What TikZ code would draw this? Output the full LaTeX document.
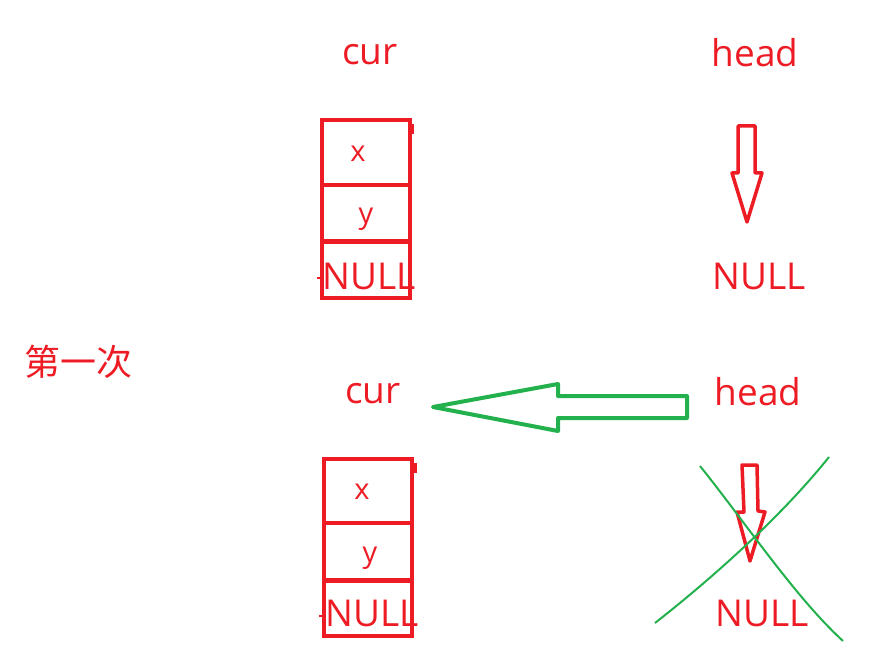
\documentclass[tikz,border=0pt]{standalone}
\usepackage{fontspec}
\setmainfont{Open Sans}
\newfontfamily\cjkfont{Noto Sans CJK SC}
\definecolor{pred}{HTML}{ED1C24}
\definecolor{pgreen}{HTML}{22B14C}
\begin{document}
\begin{tikzpicture}[x=1pt,y=-1pt,
  lbl/.style={text=pred,inner sep=0pt,font=\fontsize{37}{42}\selectfont},
  small/.style={text=pred,inner sep=0pt,font=\fontsize{29}{34}\selectfont},
  boxline/.style={draw=pred,line width=4pt},
  redarrow/.style={draw=pred,line width=3.5pt,line join=round},
  greenarrow/.style={draw=pgreen,line width=4pt,line join=round},
  cross/.style={draw=pgreen,line width=2pt}]
\useasboundingbox (0,0) rectangle (892,671);
% labels
\node[lbl] (cur1) at (370,55) {cur};
\node[lbl] (head1) at (755,53) {head};
\node[lbl] (null1) at (759,276) {NULL};
\node[lbl] (cur2) at (373,394) {cur};
\node[lbl] (head2) at (758,392) {head};
\node[lbl] (null2) at (762,613) {NULL};
\node[lbl,font=\cjkfont\fontsize{36}{40}\selectfont] (first) at (78,362) {第一次};
% top node box
\draw[boxline] (322,120) rectangle (410,298);
\draw[boxline] (322,185) -- (410,185);
\draw[boxline,line width=5pt] (322,242) -- (410,242);
\draw[draw=pred,line width=3pt] (412,124) -- (412,134);
\draw[draw=pred,line width=2pt] (317,278) -- (324,278);
\node[small] (x1) at (358,154) {x};
\node[small,anchor=base] (y1) at (366,224) {y};
\node[lbl] (n1) at (369,276) {NULL};
% bottom node box
\draw[boxline] (324,459) rectangle (412,636);
\draw[boxline] (324,523) -- (412,523);
\draw[boxline,line width=5pt] (324,580) -- (412,580);
\draw[draw=pred,line width=3pt] (415,463) -- (415,473);
\draw[draw=pred,line width=2pt] (319,616) -- (326,616);
\node[small] (x2) at (362,492) {x};
\node[small,anchor=base] (y2) at (370,562) {y};
\node[lbl] (n2) at (372,613) {NULL};
% head arrows
\draw[redarrow] (738,126) -- (755,126) -- (755,173) -- (762,173) -- (747,222) -- (732,173) -- (738,173) -- cycle;
\draw[redarrow] (742,465) -- (757,465) -- (758,511) -- (765,512) -- (750,561) -- (737,512) -- (744,512) -- cycle;
% green arrow
\draw[greenarrow] (687,396) -- (558,396) -- (558,384) -- (433,407) -- (558,431) -- (558,418) -- (687,418) -- cycle;
% cross
\draw[cross] (700,466) .. controls (745,522) and (795,597) .. (843,641);
\draw[cross] (655,623) .. controls (720,572) and (785,512) .. (829,457);
\end{tikzpicture}
\end{document}
